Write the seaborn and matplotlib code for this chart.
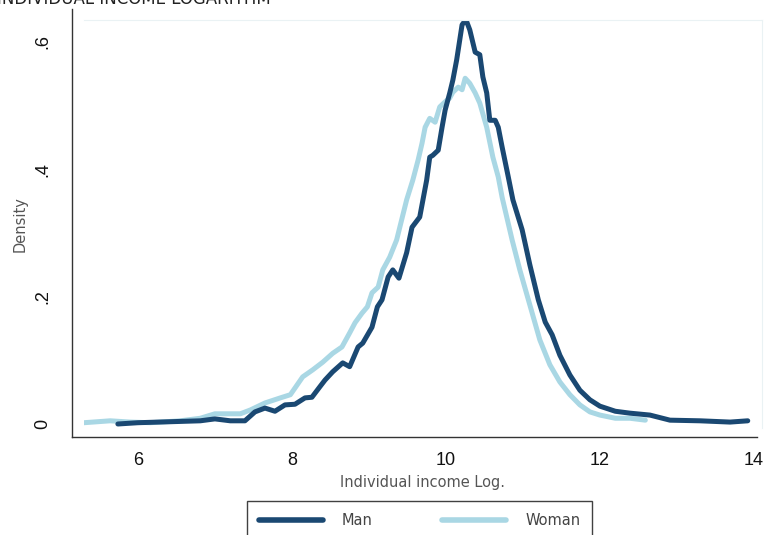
"""
Densité du logarithme du revenu individuel, par sexe.
"""

import matplotlib
matplotlib.use("Agg")
import matplotlib.pyplot as plt
import seaborn as sns
import pandas as pd

# --- Données ---
man_x = [5.74, 6.0, 6.81, 7.0, 7.2, 7.39, 7.52, 7.65, 7.78, 7.91, 8.04, 8.17,
         8.26, 8.36, 8.43, 8.53, 8.66, 8.75, 8.86, 8.92, 9.04, 9.11, 9.17,
         9.25, 9.31, 9.39, 9.49, 9.56, 9.66, 9.75, 9.79, 9.83, 9.90, 9.95,
         9.99, 10.05, 10.09, 10.14, 10.21, 10.26, 10.31, 10.38, 10.44, 10.48,
         10.53, 10.57, 10.64, 10.68, 10.73, 10.81, 10.87, 10.99, 11.09, 11.2,
         11.29, 11.38, 11.48, 11.61, 11.74, 11.87, 12.0, 12.2, 12.39, 12.65,
         12.91, 13.3, 13.69, 13.92]
man_y = [0.0, 0.002, 0.005, 0.008, 0.005, 0.005, 0.019, 0.025, 0.02, 0.03,
         0.031, 0.041, 0.042, 0.058, 0.069, 0.082, 0.096, 0.09, 0.121, 0.127,
         0.152, 0.184, 0.195, 0.231, 0.242, 0.229, 0.269, 0.309, 0.325, 0.383,
         0.419, 0.422, 0.430, 0.466, 0.493, 0.52, 0.54, 0.572, 0.627, 0.635,
         0.619, 0.584, 0.58, 0.545, 0.52, 0.477, 0.477, 0.466, 0.435, 0.388,
         0.352, 0.305, 0.25, 0.195, 0.16, 0.14, 0.108, 0.077, 0.053, 0.038,
         0.028, 0.02, 0.017, 0.014, 0.006, 0.005, 0.003, 0.005]

woman_x = [5.3, 5.64, 5.9, 6.16, 6.55, 6.81, 7.0, 7.33, 7.46, 7.65, 7.85, 7.98,
           8.14, 8.27, 8.40, 8.53, 8.65, 8.75, 8.82, 8.91, 8.98, 9.04, 9.12,
           9.18, 9.27, 9.36, 9.49, 9.57, 9.64, 9.69, 9.73, 9.79, 9.86, 9.92,
           9.99, 10.05, 10.09, 10.16, 10.21, 10.25, 10.31, 10.38, 10.44, 10.53,
           10.61, 10.68, 10.73, 10.86, 10.96, 11.09, 11.22, 11.35, 11.48, 11.61,
           11.74, 11.87, 12.0, 12.2, 12.39, 12.59]
woman_y = [0.002, 0.005, 0.003, 0.002, 0.005, 0.009, 0.016, 0.016, 0.022,
           0.033, 0.041, 0.046, 0.074, 0.085, 0.097, 0.111, 0.121, 0.143,
           0.159, 0.174, 0.184, 0.206, 0.215, 0.242, 0.262, 0.289, 0.352,
           0.383, 0.415, 0.441, 0.466, 0.480, 0.474, 0.498, 0.506, 0.512,
           0.521, 0.529, 0.525, 0.543, 0.535, 0.52, 0.504, 0.466, 0.419,
           0.388, 0.356, 0.289, 0.242, 0.187, 0.132, 0.093, 0.066, 0.046,
           0.03, 0.019, 0.014, 0.009, 0.009, 0.006]

x_ticks = [6, 8, 10, 12, 14]
y_ticks = [0, 0.2, 0.4, 0.6]
y_tick_labels = ["0", ".2", ".4", ".6"]

df = pd.concat([
    pd.DataFrame({"x": woman_x, "y": woman_y, "sexe": "Woman"}),
    pd.DataFrame({"x": man_x, "y": man_y, "sexe": "Man"}),
])

sns.set_style("white")
plt.rcParams["font.family"] = ["DejaVu Sans"]

fig = plt.figure(figsize=(7.68, 5.35), dpi=100)
ax = fig.add_axes([84 / 768, 1 - 428 / 535, 678 / 768, 408 / 535])

sns.lineplot(data=df, x="x", y="y", hue="sexe", sort=False,
             hue_order=["Woman", "Man"],
             palette={"Man": "#1a4872", "Woman": "#a9d7e4"},
             linewidth=3.6, ax=ax, legend=False)

ax.set_xlim(5.3, 14.105)
ax.set_ylim(-0.0063, 0.6345)

# cadre intérieur très pâle (style Stata)
for s in ["top", "right"]:
    ax.spines[s].set_color("#eaf2f4")
    ax.spines[s].set_linewidth(0.8)
ax.spines["left"].set_position(("outward", 8.6))
ax.spines["bottom"].set_position(("outward", 6.5))
ax.spines["left"].set_bounds(-0.0204, 0.652)
ax.spines["bottom"].set_bounds(5.144, 14.04)
for s in ["left", "bottom"]:
    ax.spines[s].set_color("#333333")
    ax.spines[s].set_linewidth(1.0)

ax.set_xticks(x_ticks)
ax.set_yticks(y_ticks)
ax.set_yticklabels(y_tick_labels, rotation=90, va="center")
ax.tick_params(axis="both", direction="out", length=6, width=1,
               color="#333333", labelsize=13, labelcolor="#111111")
ax.tick_params(axis="y", pad=9)
ax.tick_params(axis="x", pad=5)
for lab in ax.get_xticklabels() + ax.get_yticklabels():
    lab.set_family(["Liberation Sans", "DejaVu Sans"])

ax.set_xlabel("Individual income Log.", fontsize=10.5, color="#555555",
              labelpad=4)
ax.set_ylabel("Density", fontsize=10.5, color="#555555", labelpad=5)

# titre coupé en haut de l'image
fig.text(-0.004, 1 - 4 / 535, "INDIVIDUAL INCOME LOGARITHM", fontsize=12,
         color="#222222", ha="left", va="baseline")

# légende en bas
handles = [plt.Line2D([], [], color="#1a4872", lw=4),
           plt.Line2D([], [], color="#a9d7e4", lw=4)]
leg = fig.legend(handles, ["Man", "Woman"], loc="upper left",
                 bbox_to_anchor=(247 / 768, 1 - 501 / 535, 345 / 768, 0),
                 mode="expand", ncol=2, frameon=True, fancybox=False,
                 fontsize=10.5, handlelength=4.4, handletextpad=1.3,
                 borderpad=0.8, borderaxespad=0, labelcolor="#444444")
leg.get_frame().set_edgecolor("#111111")
leg.get_frame().set_linewidth(1.0)

plt.savefig("out.png", dpi=100)
plt.close()
